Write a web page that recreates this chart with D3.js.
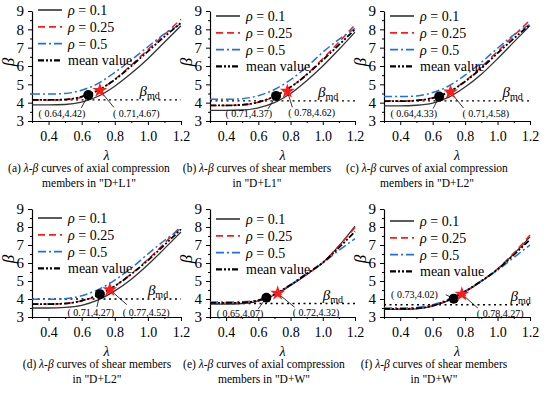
<!DOCTYPE html>
<html>
<head>
<meta charset="utf-8">
<script src="https://cdn.jsdelivr.net/npm/d3@7"></script>
<style>
body { margin: 0; background: #fff; }
text { font-family: "Liberation Serif", "Times New Roman", serif; fill: #000; }
</style>
</head>
<body>
<div id="chart"></div>
<script>
// shared x values and ticks
const lambda = [0.3, 0.4, 0.5, 0.6, 0.7, 0.8, 0.9, 1.0, 1.1, 1.2];
const xTicks = [0.4, 0.6, 0.8, 1.0, 1.2];
const yTicks = [3, 4, 5, 6, 7, 8, 9];
const legendLabels = ["0.1", "0.25", "0.5", "mean value"];

// (a) axial compression, D+L1
const rho01A  = [3.88, 3.88, 3.90, 4.03, 4.35, 4.90, 5.60, 6.40, 7.30, 8.20];
const rho025A = [4.15, 4.15, 4.17, 4.30, 4.66, 5.28, 6.05, 6.90, 7.72, 8.55];
const rho05A  = [4.47, 4.47, 4.50, 4.68, 5.05, 5.65, 6.33, 7.05, 7.75, 8.30];
const meanA   = [4.15, 4.15, 4.17, 4.33, 4.68, 5.25, 6.00, 6.80, 7.60, 8.35];
// (b) shear, D+L1
const rho01B  = [3.58, 3.58, 3.60, 3.72, 4.00, 4.50, 5.20, 6.00, 6.90, 7.85];
const rho025B = [3.85, 3.85, 3.88, 4.02, 4.33, 4.85, 5.55, 6.40, 7.30, 8.25];
const rho05B  = [4.18, 4.18, 4.22, 4.38, 4.72, 5.25, 5.95, 6.75, 7.45, 8.05];
const meanB   = [3.85, 3.85, 3.88, 4.03, 4.35, 4.85, 5.52, 6.32, 7.15, 8.00];
// (c) axial compression, D+L2
const rho01C  = [3.83, 3.83, 3.86, 3.98, 4.30, 4.85, 5.55, 6.40, 7.30, 8.20];
const rho025C = [4.08, 4.08, 4.12, 4.27, 4.60, 5.18, 5.95, 6.80, 7.65, 8.50];
const rho05C  = [4.33, 4.33, 4.37, 4.55, 4.92, 5.50, 6.20, 6.97, 7.70, 8.28];
const meanC   = [4.08, 4.08, 4.12, 4.25, 4.58, 5.15, 5.88, 6.70, 7.50, 8.25];
// (d) shear, D+L2
const rho01D  = [3.50, 3.50, 3.53, 3.65, 3.95, 4.45, 5.10, 5.90, 6.80, 7.72];
const rho025D = [3.72, 3.72, 3.75, 3.90, 4.20, 4.72, 5.40, 6.20, 7.10, 8.05];
const rho05D  = [3.98, 3.98, 4.02, 4.18, 4.52, 5.05, 5.72, 6.50, 7.25, 7.90];
const meanD   = [3.72, 3.72, 3.75, 3.90, 4.22, 4.72, 5.38, 6.15, 7.00, 7.88];
// (e) axial compression, D+W
const rho01E  = [3.72, 3.72, 3.75, 3.88, 4.22, 4.75, 5.35, 6.02, 6.95, 8.05];
const rho025E = [3.78, 3.78, 3.80, 3.90, 4.25, 4.78, 5.38, 6.02, 6.95, 7.98];
const rho05E  = [3.83, 3.83, 3.85, 3.95, 4.28, 4.80, 5.42, 6.00, 6.70, 7.35];
const meanE   = [3.78, 3.78, 3.80, 3.92, 4.25, 4.78, 5.40, 6.02, 6.85, 7.75];
// (f) shear, D+W
const rho01F  = [3.42, 3.42, 3.45, 3.60, 3.92, 4.40, 4.98, 5.65, 6.50, 7.45];
const rho025F = [3.45, 3.45, 3.48, 3.62, 3.95, 4.42, 5.00, 5.68, 6.55, 7.55];
const rho05F  = [3.50, 3.50, 3.53, 3.68, 4.00, 4.45, 5.00, 5.60, 6.30, 7.00];
const meanF   = [3.45, 3.45, 3.48, 3.63, 3.95, 4.42, 5.00, 5.65, 6.45, 7.30];

const betaMd   = [4.15, 4.1, 4.1, 4.0, 3.75, 3.68];
const dotPts   = [[0.64, 4.42], [0.71, 4.37], [0.64, 4.33], [0.71, 4.27], [0.65, 4.07], [0.73, 4.02]];
const starPts  = [[0.71, 4.67], [0.78, 4.62], [0.71, 4.58], [0.77, 4.52], [0.72, 4.32], [0.78, 4.27]];
const betaMdAt = [0.95, 0.97, 1.03, 1.0, 1.0, 1.08];

const captionLetters = ["a", "b", "c", "d", "e", "f"];
const captionKinds = ["axial compression", "shear members", "axial compression",
                      "shear members", "axial compression", "shear members"];
const captionLine2 = ['members in "D+L1"', 'in "D+L1"', 'members in "D+L2"',
                      'in "D+L2"', 'members in "D+W"', 'in "D+W"'];

// layout of each panel (pixels)
const layout = [
  {x0: 32,  x1: 181, y0: 121, y1: 11,  legTop: 10,  capX: 89,
   dotLab: [-3, 22, "end"],   dotLine: [-7, 13],  starLab: [13, 27, "start"], starLine: [14, 17]},
  {x0: 210, x1: 355, y0: 121, y1: 11,  legTop: 16,  capX: 257,
   dotLab: [-4, 21, "end"],   dotLine: [-8, 13],  starLab: [1, 25, "start"],  starLine: [5, 16]},
  {x0: 384, x1: 530, y0: 121, y1: 11,  legTop: 16,  capX: 427,
   dotLab: [-2, 20, "end"],   dotLine: [-6, 12],  starLab: [12, 25, "start"], starLine: [13, 16]},
  {x0: 32,  x1: 181, y0: 317, y1: 209, legTop: 218, capX: 97,
   dotLab: [-9, 22, "middle"], dotLine: [-3, 13], starLab: [13, 26, "start"], starLine: [17, 15]},
  {x0: 210, x1: 355, y0: 317, y1: 209, legTop: 219, capX: 264,
   dotLab: [-3, 19, "end"],   dotLine: [-8, 11],  starLab: [15, 23, "start"], starLine: [17, 14]},
  {x0: 384, x1: 530, y0: 317, y1: 209, legTop: 221, capX: 434,
   dotLab: [-16, -1, "end"],  dotLine: [-8, -4],  starLab: [15, 23, "start"], starLine: [16, 14]}
];

const seriesByPanel = [
  [rho01A, rho025A, rho05A, meanA],
  [rho01B, rho025B, rho05B, meanB],
  [rho01C, rho025C, rho05C, meanC],
  [rho01D, rho025D, rho05D, meanD],
  [rho01E, rho025E, rho05E, meanE],
  [rho01F, rho025F, rho05F, meanF]
];

const styles = [
  {stroke: "#333", dash: null, w: 1.3},
  {stroke: "#ff1a1a", dash: "7,4", w: 1.5},
  {stroke: "#1f6fe8", dash: "8,3,2,3", w: 1.5},
  {stroke: "#000", dash: "6,2,2,2,2,2", w: 1.8}
];

const svg = d3.select("#chart").append("svg")
    .attr("width", 550)
    .attr("height", 395)
    .attr("font-family", "Liberation Serif");

const defs = svg.append("defs");
defs.append("marker")
    .attr("id", "arr")
    .attr("viewBox", "0 0 10 10")
    .attr("refX", 10).attr("refY", 5)
    .attr("markerWidth", 5).attr("markerHeight", 5)
    .attr("orient", "auto")
    .append("path")
    .attr("d", "M0,1L10,5L0,9")
    .attr("fill", "none")
    .attr("stroke", "#000")
    .attr("stroke-width", 1.5);

layout.forEach((L, p) => {
    const x = d3.scaleLinear().domain([0.3, 1.2]).range([L.x0, L.x1]);
    const y = d3.scaleLinear().domain([3, 9]).range([L.y0, L.y1]);
    const g = svg.append("g");

    // axes
    const xAxis = g.append("g")
        .attr("transform", "translate(0," + L.y0 + ")")
        .call(d3.axisBottom(x).tickValues(xTicks).tickFormat(d3.format(".1f")).tickSize(4).tickSizeOuter(0));
    g.append("g")
        .attr("transform", "translate(0," + L.y0 + ")")
        .call(d3.axisBottom(x).tickValues([0.3, 0.5, 0.7, 0.9, 1.1]).tickFormat("").tickSize(2).tickSizeOuter(0))
        .select(".domain").remove();
    const yAxis = g.append("g")
        .attr("transform", "translate(" + L.x0 + ",0)")
        .call(d3.axisLeft(y).tickValues(yTicks).tickFormat(d3.format("d")).tickSize(4).tickSizeOuter(0));
    g.append("g")
        .attr("transform", "translate(" + L.x0 + ",0)")
        .call(d3.axisLeft(y).tickValues([3.5, 4.5, 5.5, 6.5, 7.5, 8.5]).tickFormat("").tickSize(2).tickSizeOuter(0))
        .select(".domain").remove();
    g.selectAll("g").attr("font-family", "Liberation Serif");
    g.selectAll(".domain").attr("stroke-width", 1.2);
    xAxis.selectAll("text").attr("font-size", 14).attr("dy", "0.9em");
    yAxis.selectAll("text").attr("font-size", 15).attr("dx", "-1");
    g.selectAll(".tick line").attr("stroke-width", 1);

    // axis titles
    g.append("text")
        .attr("transform", "translate(" + (L.x0 - 18) + "," + ((L.y0 + L.y1) / 2 - 4) + ") rotate(-90)")
        .attr("text-anchor", "middle")
        .attr("font-size", 17).attr("font-style", "italic")
        .text("β");
    g.append("text")
        .attr("x", (L.x0 + L.x1) / 2).attr("y", L.y0 + 39)
        .attr("text-anchor", "middle")
        .attr("font-size", 14).attr("font-style", "italic")
        .text("λ");

    // beta_md line
    g.append("line")
        .attr("x1", x(0.3)).attr("x2", x(1.2))
        .attr("y1", y(betaMd[p])).attr("y2", y(betaMd[p]))
        .attr("stroke", "#000").attr("stroke-width", 1.3)
        .attr("stroke-dasharray", "2,3.5");
    const bm = g.append("text")
        .attr("x", x(betaMdAt[p])).attr("y", y(betaMd[p]) - 4)
        .attr("font-size", 15);
    bm.append("tspan").attr("font-style", "italic").text("β");
    bm.append("tspan").attr("font-size", 10).attr("dy", 3).text("md");

    // curves
    const line = d3.line()
        .x((d, i) => x(lambda[i]))
        .y(d => y(d))
        .curve(d3.curveMonotoneX);
    seriesByPanel[p].forEach((s, k) => {
        g.append("path")
            .datum(s)
            .attr("fill", "none")
            .attr("stroke", styles[k].stroke)
            .attr("stroke-width", styles[k].w)
            .attr("stroke-dasharray", styles[k].dash)
            .attr("d", line);
    });

    // legend
    legendLabels.forEach((lab, k) => {
        const ly = L.legTop + k * 16.8;
        g.append("line")
            .attr("x1", L.x0 + 6).attr("x2", L.x0 + 30)
            .attr("y1", ly).attr("y2", ly)
            .attr("stroke", styles[k].stroke)
            .attr("stroke-width", styles[k].w + 0.3)
            .attr("stroke-dasharray", styles[k].dash);
        const t = g.append("text")
            .attr("x", L.x0 + 36).attr("y", ly + 5)
            .attr("font-size", 14);
        if (k < 3) {
            t.append("tspan").attr("font-style", "italic").text("ρ");
            t.append("tspan").text(" = " + lab);
        } else {
            t.text(lab);
        }
    });

    // markers and annotations
    const dx = x(dotPts[p][0]), dy = y(dotPts[p][1]);
    const sx = x(starPts[p][0]), sy = y(starPts[p][1]);

    g.append("line")
        .attr("x1", dx + L.dotLine[0]).attr("y1", dy + L.dotLine[1])
        .attr("x2", dx).attr("y2", dy)
        .attr("stroke", "#000").attr("stroke-width", 0.8)
        .attr("marker-end", "url(#arr)");
    g.append("line")
        .attr("x1", sx + L.starLine[0]).attr("y1", sy + L.starLine[1])
        .attr("x2", sx).attr("y2", sy)
        .attr("stroke", "#000").attr("stroke-width", 0.8)
        .attr("marker-end", "url(#arr)");

    g.append("circle")
        .attr("cx", dx).attr("cy", dy).attr("r", 5)
        .attr("fill", "#000");
    g.append("path")
        .attr("transform", "translate(" + sx + "," + sy + ")")
        .attr("d", d3.symbol().type(d3.symbolStar).size(70)())
        .attr("fill", "#ff1a1a");

    g.append("text")
        .attr("x", dx + L.dotLab[0]).attr("y", dy + L.dotLab[1])
        .attr("text-anchor", L.dotLab[2])
        .attr("font-size", 10)
        .text("( " + dotPts[p][0].toFixed(2) + "," + dotPts[p][1].toFixed(2) + ")");
    g.append("text")
        .attr("x", sx + L.starLab[0]).attr("y", sy + L.starLab[1])
        .attr("text-anchor", L.starLab[2])
        .attr("font-size", 10)
        .text("( " + starPts[p][0].toFixed(2) + "," + starPts[p][1].toFixed(2) + ")");

    // caption
    const c1 = g.append("text")
        .attr("x", L.capX).attr("y", L.y0 + 51)
        .attr("text-anchor", "middle")
        .attr("font-size", 11.5);
    c1.append("tspan").text("(" + captionLetters[p] + ") ");
    c1.append("tspan").attr("font-style", "italic").text("λ-β");
    c1.append("tspan").text(" curves of " + captionKinds[p]);
    g.append("text")
        .attr("x", L.capX).attr("y", L.y0 + 66)
        .attr("text-anchor", "middle")
        .attr("font-size", 11.5)
        .text(captionLine2[p]);
});
</script>
</body>
</html>
